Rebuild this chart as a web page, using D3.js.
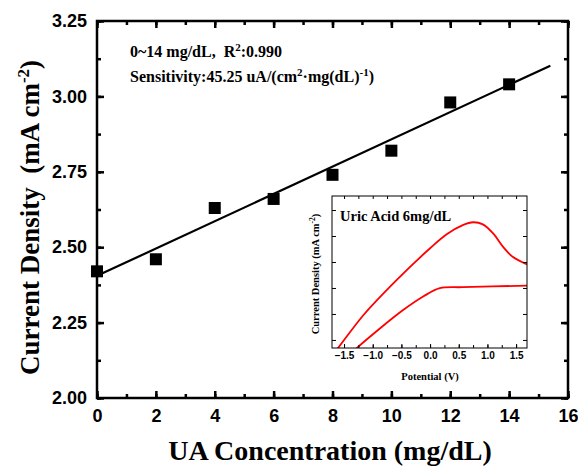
<!DOCTYPE html>
<html>
<head>
<meta charset="utf-8">
<script src="https://cdn.jsdelivr.net/npm/d3@7"></script>
<style>
  body { margin: 0; background: #fff; }
  svg { display: block; }
  text { white-space: pre; }
</style>
</head>
<body>
<script>
// measured values
const conc = [0, 2, 4, 6, 8, 10, 12, 14];
const density = [2.42, 2.46, 2.63, 2.66, 2.74, 2.82, 2.98, 3.04];
const fitX = [0, 15.4];
const fitY = [2.405, 3.102];
const xTicks = [0, 2, 4, 6, 8, 10, 12, 14, 16];
const yTicks = [2.00, 2.25, 2.50, 2.75, 3.00, 3.25];

// inset CV curve (upper and lower branch)
const cvUpper = [[-1.66, -0.45], [-1.63, -0.38], [-1.16, 0.96], [-0.58, 2.31], [0.0, 3.53], [0.29, 4.07],
  [0.57, 4.42], [0.75, 4.53], [0.92, 4.45], [1.10, 4.10], [1.27, 3.59], [1.44, 3.20], [1.69, 2.91]];
const cvLower = [[-1.34, -0.45], [-1.31, -0.38], [-0.87, 0.45], [-0.47, 1.15], [-0.12, 1.67], [0.17, 1.99],
  [0.57, 2.03], [1.69, 2.09]];
const insetXTicks = [-1.5, -1.0, -0.5, 0.0, 0.5, 1.0, 1.5];

const width = 578, height = 468;
const m = { left: 97, right: 568, top: 21, bottom: 398 };

const svg = d3.select('body').append('svg')
  .attr('width', width).attr('height', height);

const x = d3.scaleLinear().domain([0, 16]).range([m.left, m.right]);
const y = d3.scaleLinear().domain([2.0, 3.25]).range([m.bottom, m.top]);

const sans = "'Liberation Sans', Arial, sans-serif";
const serif = "'Liberation Serif', 'Times New Roman', serif";

// frame
svg.append('rect')
  .attr('x', m.left).attr('y', m.top)
  .attr('width', m.right - m.left).attr('height', m.bottom - m.top)
  .attr('fill', 'none').attr('stroke', '#000').attr('stroke-width', 2.5);

// ticks on all four sides, pointing inward
function styleAxis(g) {
  g.select('.domain').remove();
  g.selectAll('.tick line').attr('stroke', '#000').attr('stroke-width', 2.5);
}
const xMinor = d3.range(0, 16.01, 1);
const yMinor = d3.range(2.0, 3.2501, 0.125);

svg.append('g').attr('transform', `translate(0,${m.bottom})`)
  .call(d3.axisBottom(x).tickValues(xMinor).tickSize(-4).tickFormat(''))
  .call(styleAxis);
svg.append('g').attr('transform', `translate(0,${m.bottom})`)
  .call(d3.axisBottom(x).tickValues(xTicks).tickSize(-7).tickPadding(11).tickFormat(d3.format('d')))
  .call(styleAxis)
  .call(g => g.selectAll('text').attr('font-family', sans).attr('font-weight', 'bold')
    .attr('font-size', 18).attr('fill', '#000'));
svg.append('g').attr('transform', `translate(0,${m.top})`)
  .call(d3.axisTop(x).tickValues(xMinor).tickSize(-4).tickFormat(''))
  .call(styleAxis);
svg.append('g').attr('transform', `translate(0,${m.top})`)
  .call(d3.axisTop(x).tickValues(xTicks).tickSize(-7).tickFormat(''))
  .call(styleAxis);

svg.append('g').attr('transform', `translate(${m.left},0)`)
  .call(d3.axisLeft(y).tickValues(yMinor).tickSize(-4).tickFormat(''))
  .call(styleAxis);
svg.append('g').attr('transform', `translate(${m.left},0)`)
  .call(d3.axisLeft(y).tickValues(yTicks).tickSize(-7).tickPadding(10).tickFormat(d3.format('.2f')))
  .call(styleAxis)
  .call(g => g.selectAll('text').attr('font-family', sans).attr('font-weight', 'bold')
    .attr('font-size', 18).attr('fill', '#000'));
svg.append('g').attr('transform', `translate(${m.right},0)`)
  .call(d3.axisRight(y).tickValues(yMinor).tickSize(-4).tickFormat(''))
  .call(styleAxis);
svg.append('g').attr('transform', `translate(${m.right},0)`)
  .call(d3.axisRight(y).tickValues(yTicks).tickSize(-7).tickFormat(''))
  .call(styleAxis);

// fit line
svg.append('line')
  .attr('x1', x(fitX[0])).attr('y1', y(fitY[0]))
  .attr('x2', x(fitX[1])).attr('y2', y(fitY[1]))
  .attr('stroke', '#000').attr('stroke-width', 2.2);

// squares
const sq = 12;
svg.selectAll('rect.pt')
  .data(conc)
  .enter()
  .append('rect')
  .attr('class', 'pt')
  .attr('x', (d, i) => x(d) - sq / 2)
  .attr('y', (d, i) => y(density[i]) - sq / 2)
  .attr('width', sq).attr('height', sq)
  .attr('fill', '#000');

// annotation
const ann = svg.append('g').attr('font-family', serif).attr('font-weight', 'bold')
  .attr('font-size', 16).attr('fill', '#000');
const t1 = ann.append('text').attr('x', 130).attr('y', 57);
t1.append('tspan').text('0~14 mg/dL,  R');
t1.append('tspan').attr('dy', -6).attr('font-size', 11).text('2');
t1.append('tspan').attr('dy', 6).text(':0.990');
const t2 = ann.append('text').attr('x', 130).attr('y', 82);
t2.append('tspan').text('Sensitivity:45.25 uA/(cm');
t2.append('tspan').attr('dy', -6).attr('font-size', 11).text('2');
t2.append('tspan').attr('dy', 6).text('\u00b7mg(dL)');
t2.append('tspan').attr('dy', -6).attr('font-size', 11).text('-1');
t2.append('tspan').attr('dy', 6).text(')');

// axis titles
svg.append('text')
  .attr('x', 330).attr('y', 460)
  .attr('text-anchor', 'middle')
  .attr('font-family', serif).attr('font-weight', 'bold').attr('font-size', 28)
  .text('UA Concentration (mg/dL)');

const yt = svg.append('text')
  .attr('transform', `translate(39,${(m.top + m.bottom) / 2 + 8}) rotate(-90)`)
  .attr('text-anchor', 'middle')
  .attr('font-family', serif).attr('font-weight', 'bold').attr('font-size', 27);
yt.append('tspan').text('Current Density  (mA cm');
yt.append('tspan').attr('dy', -10).attr('font-size', 17).text('-2');
yt.append('tspan').attr('dy', 10).text(')');

// ---------- inset ----------
const ix = d3.scaleLinear().domain([-1.71, 1.69]).range([332, 527]);
const iy = d3.scaleLinear().domain([-0.31, 5.54]).range([348, 196]);
const inset = svg.append('g');

inset.append('rect')
  .attr('x', 332).attr('y', 196).attr('width', 195).attr('height', 152)
  .attr('fill', '#fff');

inset.append('clipPath').attr('id', 'iclip')
  .append('rect').attr('x', 332).attr('y', 196).attr('width', 195).attr('height', 152);

const line = d3.line().x(d => ix(d[0])).y(d => iy(d[1])).curve(d3.curveCatmullRom);
[cvUpper, cvLower].forEach(c => {
  inset.append('path')
    .attr('d', line(c))
    .attr('clip-path', 'url(#iclip)')
    .attr('fill', 'none').attr('stroke', '#f00').attr('stroke-width', 1.8);
});

function styleInset(g) {
  g.select('.domain').remove();
  g.selectAll('.tick line').attr('stroke', '#000').attr('stroke-width', 1);
}
const ixMinor = d3.range(-1.5, 1.51, 0.25);
const iyTicks = [0, 1, 2, 3, 4, 5];
inset.append('g').attr('transform', 'translate(0,348)')
  .call(d3.axisBottom(ix).tickValues(ixMinor).tickSize(-3).tickFormat(''))
  .call(styleInset);
inset.append('g').attr('transform', 'translate(0,348)')
  .call(d3.axisBottom(ix).tickValues(insetXTicks).tickSize(-4).tickPadding(4).tickFormat(d3.format('.1f')))
  .call(styleInset)
  .call(g => g.selectAll('text').attr('font-family', sans).attr('font-weight', 'bold')
    .attr('font-size', 10).attr('fill', '#000'));
inset.append('g').attr('transform', 'translate(0,196)')
  .call(d3.axisTop(ix).tickValues(ixMinor).tickSize(-3).tickFormat(''))
  .call(styleInset);
inset.append('g').attr('transform', 'translate(332,0)')
  .call(d3.axisLeft(iy).tickValues(iyTicks).tickSize(-4).tickFormat(''))
  .call(styleInset);
inset.append('g').attr('transform', 'translate(527,0)')
  .call(d3.axisRight(iy).tickValues(iyTicks).tickSize(-4).tickFormat(''))
  .call(styleInset);

inset.append('rect')
  .attr('x', 332).attr('y', 196).attr('width', 195).attr('height', 152)
  .attr('fill', 'none').attr('stroke', '#000').attr('stroke-width', 1);

inset.append('text')
  .attr('x', 340).attr('y', 221)
  .attr('font-family', serif).attr('font-weight', 'bold').attr('font-size', 14.5)
  .text('Uric Acid 6mg/dL');

inset.append('text')
  .attr('x', 430).attr('y', 380)
  .attr('text-anchor', 'middle')
  .attr('font-family', serif).attr('font-weight', 'bold').attr('font-size', 10.5)
  .text('Potential (V)');

const iyt = inset.append('text')
  .attr('transform', 'translate(319,274) rotate(-90)')
  .attr('text-anchor', 'middle')
  .attr('font-family', serif).attr('font-weight', 'bold').attr('font-size', 10.5);
iyt.append('tspan').text('Current Density (mA cm');
iyt.append('tspan').attr('dy', -4).attr('font-size', 7.5).text('-2');
iyt.append('tspan').attr('dy', 4).text(')');
</script>
</body>
</html>
